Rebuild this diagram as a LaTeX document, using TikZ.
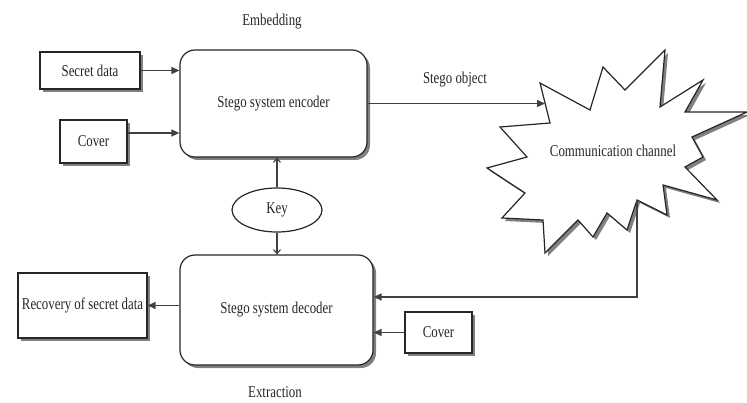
\documentclass[tikz,border=0pt]{standalone}
\usepackage{fontspec}
\setmainfont[FakeStretch=0.78]{Liberation Serif}
\usetikzlibrary{shadows,arrows.meta,shapes.geometric}
\begin{document}
\begin{tikzpicture}[x=1pt,y=-1pt,
  font=\fontsize{16.5}{18}\selectfont,
  every node/.style={text=black!85},
  shad/.style={drop shadow={shadow xshift=3pt,shadow yshift=-3pt,fill=black!50,opacity=1}},
  boxnode/.style={draw=black!85,line width=1.2pt,fill=white,shad,inner sep=0pt},
  roundnode/.style={boxnode,rounded corners=15pt},
  conn/.style={draw=black!75,line width=1.3pt,-{Triangle[length=8pt,width=7pt]}},
  keyconn/.style={draw=black!75,line width=1.1pt,-{Straight Barb[length=4pt,width=7pt]}},
  lbl/.style={inner sep=0pt}]
\useasboundingbox (0,0) rectangle (747,403);

% star (communication channel)
\draw[draw=black!85,line width=1.2pt,fill=white,shad]
  (540,83) -- (590,110) -- (603,67) -- (625,90) -- (665,50) -- (660,107)
  -- (703,80) -- (685,112) -- (747,112) -- (692,137) -- (703,157) -- (685,167)
  -- (717,200) -- (663,185) -- (667,215) -- (637,200) -- (627,230) -- (607,213)
  -- (593,237) -- (578,220) -- (545,253) -- (543,220) -- (502,218) -- (525,193)
  -- (487,168) -- (527,157) -- (500,127) -- (550,123) -- cycle;
\node[lbl] (chan) at (613,151) {Communication channel};
\coordinate (chin) at (545,103.5);
\coordinate (chout) at (637,200);

% nodes
\node[boxnode,minimum width=100pt,minimum height=37pt] (sd) at (90,70.5) {Secret data};
\node[boxnode,minimum width=67pt,minimum height=43pt] (cov1) at (93.5,141.5) {Cover};
\node[roundnode,minimum width=187pt,minimum height=107pt] (enc) at (273.5,103.5) {Stego system encoder};
\node[roundnode,minimum width=193pt,minimum height=110pt] (dec) at (276.5,310) {Stego system decoder};
\node[boxnode,minimum width=129pt,minimum height=65pt] (rec) at (82.5,305.5) {Recovery of secret data};
\node[boxnode,minimum width=67pt,minimum height=41pt] (cov2) at (438.5,332.5) {Cover};
\node[draw=black!85,line width=1.2pt,fill=white,ellipse,minimum width=90pt,minimum height=44pt,inner sep=0pt] (key) at (277,210) {Key};

% labels
\node[lbl] (emb) at (272,22) {Embedding};
\node[lbl] (ext) at (275,392) {Extraction};
\node[lbl] (so) at (455,80) {Stego object};

% connectors
\draw[conn] (sd.east) -- (sd.east -| enc.west);
\draw[conn] ([yshift=8.5pt]cov1.east) -- ([yshift=8.5pt]cov1.east -| enc.west);
\draw[conn] (enc.east) -- (chin);
\draw[conn] (chout) |- ([yshift=13pt]dec.east);
\draw[conn] (cov2.west) -- (cov2.west -| dec.east);
\draw[conn] (dec.west |- rec.east) -- (rec.east);
\draw[keyconn] (key.north) -- (key.north |- enc.south);
\draw[keyconn] (key.south) -- (key.south |- dec.north);
\end{tikzpicture}
\end{document}
